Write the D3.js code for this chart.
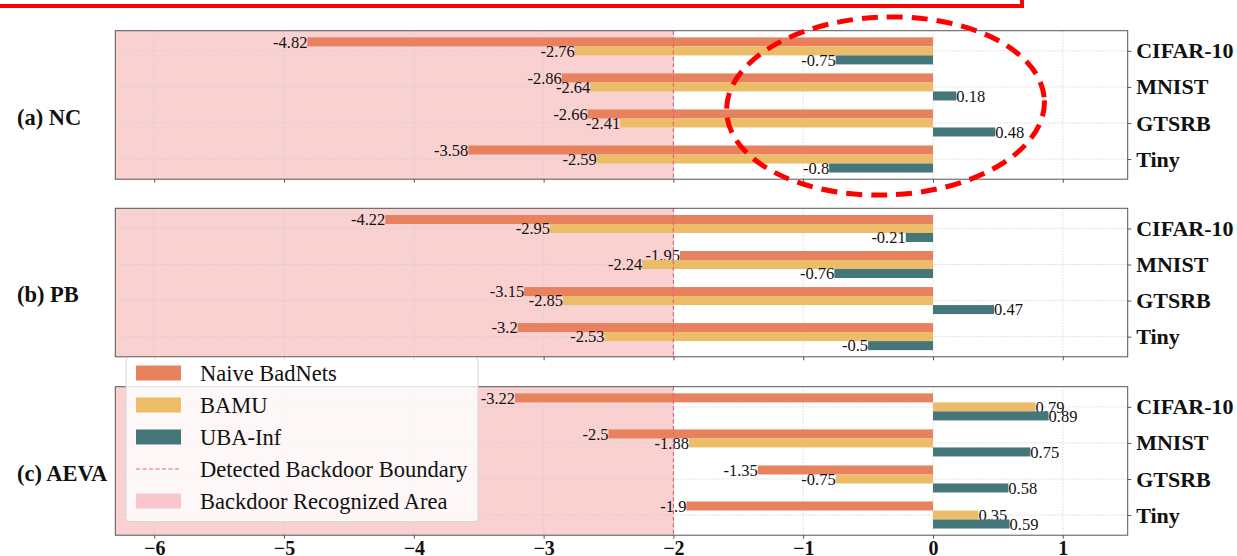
<!DOCTYPE html>
<html>
<head>
<meta charset="utf-8">
<script src="https://cdn.jsdelivr.net/npm/d3@7"></script>
<style>
  html, body { margin: 0; padding: 0; background: #fff; }
  svg { display: block; }
  text { font-family: "Liberation Serif", "DejaVu Serif", serif; }
</style>
</head>
<body>
<svg id="chart" width="1237" height="556"></svg>
<script>
// ---------------- data ----------------
const categories = ["CIFAR-10", "MNIST", "GTSRB", "Tiny"];
const panelLabels = ["(a) NC", "(b) PB", "(c) AEVA"];
const seriesNames = ["Naive BadNets", "BAMU", "UBA-Inf"];
// one row per panel (NC, PB, AEVA), one value per category
const naiveBadNets = [
  [-4.82, -2.86, -2.66, -3.58],
  [-4.22, -1.95, -3.15, -3.2],
  [-3.22, -2.5, -1.35, -1.9]
];
const bamu = [
  [-2.76, -2.64, -2.41, -2.59],
  [-2.95, -2.24, -2.85, -2.53],
  [0.79, -1.88, -0.75, 0.35]
];
const ubaInf = [
  [-0.75, 0.18, 0.48, -0.8],
  [-0.21, -0.76, 0.47, -0.5],
  [0.89, 0.75, 0.58, 0.59]
];
const xTicks = [-6, -5, -4, -3, -2, -1, 0, 1];
const boundary = -2;
const legendLabels = ["Naive BadNets", "BAMU", "UBA-Inf", "Detected Backdoor Boundary", "Backdoor Recognized Area"];

// ---------------- styles ----------------
const colors = ["#E8825E", "#ECBC69", "#44767A"];
const pink = "#F9D1D1";
const boundaryColor = "#E06670";
const spineColor = "#555";
const gridColor = "#cfcfcf";

const svg = d3.select("#chart");

const x = d3.scaleLinear().domain([-6.3, 1.5]).range([115.3, 1127.7]);
const panelTops = [30.7, 208.3, 386.7];
const panelH = 148.5;
const seriesData = [naiveBadNets, bamu, ubaInf];
const offsets = [-0.25, 0, 0.25];
const barW = 0.25;

panelTops.forEach((top, p) => {
  const y = d3.scaleLinear().domain([-0.56, 3.56]).range([top, top + panelH]);
  const g = svg.append("g");

  // recognized area
  g.append("rect")
    .attr("x", x(-6.3)).attr("y", top)
    .attr("width", x(boundary) - x(-6.3)).attr("height", panelH)
    .attr("fill", pink);

  // grid
  g.append("g").selectAll("line").data(xTicks).join("line")
    .attr("x1", d => x(d)).attr("x2", d => x(d))
    .attr("y1", top).attr("y2", top + panelH)
    .attr("stroke", gridColor).attr("stroke-width", 0.8)
    .attr("stroke-dasharray", "1.5,1.5");
  g.append("g").selectAll("line").data(categories).join("line")
    .attr("x1", x(-6.3)).attr("x2", x(1.5))
    .attr("y1", (d, i) => y(i)).attr("y2", (d, i) => y(i))
    .attr("stroke", gridColor).attr("stroke-width", 0.8)
    .attr("stroke-dasharray", "1.5,1.5");

  // bars + labels
  seriesData.forEach((s, si) => {
    const vals = s[p];
    g.append("g").selectAll("rect").data(vals).join("rect")
      .attr("x", d => x(Math.min(0, d)))
      .attr("width", d => Math.abs(x(d) - x(0)))
      .attr("y", (d, i) => y(i + offsets[si] - barW / 2))
      .attr("height", y(barW) - y(0))
      .attr("fill", colors[si]);
    g.append("g").selectAll("text").data(vals).join("text")
      .attr("x", d => x(d))
      .attr("y", (d, i) => y(i + offsets[si]))
      .attr("dy", "0.35em")
      .attr("text-anchor", d => d < 0 ? "end" : "start")
      .attr("font-size", 16.5)
      .attr("fill", "#111")
      .text(d => String(d));
  });

  // boundary line
  g.append("line")
    .attr("x1", x(boundary)).attr("x2", x(boundary))
    .attr("y1", top).attr("y2", top + panelH)
    .attr("stroke", boundaryColor).attr("stroke-width", 1.2)
    .attr("stroke-dasharray", "4,2.5");

  // frame
  g.append("rect")
    .attr("x", x(-6.3)).attr("y", top)
    .attr("width", x(1.5) - x(-6.3)).attr("height", panelH)
    .attr("fill", "none").attr("stroke", spineColor).attr("stroke-width", 1);

  // x axis
  const xa = d3.axisBottom(x).tickValues(xTicks).tickSize(3.5).tickSizeOuter(0).tickPadding(2);
  if (p < 2) xa.tickFormat(() => "");
  const xg = g.append("g").attr("transform", `translate(0,${top + panelH})`).call(xa);
  xg.select(".domain").remove();
  xg.selectAll("line").attr("stroke", spineColor);
  xg.selectAll("text").attr("font-size", 20).attr("font-weight", "bold")
    .attr("fill", "#111").attr("font-family", "Liberation Serif, serif");

  // y axis (right)
  const ya = d3.axisRight(y).tickValues([0, 1, 2, 3]).tickFormat(i => categories[i])
    .tickSize(3.5).tickSizeOuter(0).tickPadding(5);
  const yg = g.append("g").attr("transform", `translate(${x(1.5)},0)`).call(ya);
  yg.select(".domain").remove();
  yg.selectAll("line").attr("stroke", spineColor);
  yg.selectAll("text").attr("font-size", 22).attr("font-weight", "bold")
    .attr("fill", "#111").attr("font-family", "Liberation Serif, serif");

  // panel label
  g.append("text")
    .attr("x", 17).attr("y", top + panelH / 2 + 12)
    .attr("dy", "0.35em")
    .attr("font-size", 22.5).attr("font-weight", "bold").attr("fill", "#111")
    .text(panelLabels[p]);
});

// ---------------- legend ----------------
const lg = svg.append("g");
lg.append("rect")
  .attr("x", 126).attr("y", 357.5).attr("width", 352).attr("height", 164)
  .attr("rx", 3).attr("fill", "#fff").attr("fill-opacity", 0.82)
  .attr("stroke", "#d6d6d6").attr("stroke-width", 1);
const rowY = [373, 405, 437, 469, 501];
legendLabels.forEach((lab, i) => {
  const cy = rowY[i];
  if (i < 3) {
    lg.append("rect").attr("x", 136).attr("y", cy - 7.5).attr("width", 45).attr("height", 15)
      .attr("fill", colors[i]);
  } else if (i === 3) {
    lg.append("line").attr("x1", 136).attr("x2", 181).attr("y1", cy).attr("y2", cy)
      .attr("stroke", boundaryColor).attr("stroke-width", 1.2).attr("stroke-dasharray", "4,2.5");
  } else {
    lg.append("rect").attr("x", 136).attr("y", cy - 7.5).attr("width", 45).attr("height", 15)
      .attr("fill", "#F8C6CB");
  }
  lg.append("text").attr("x", 200).attr("y", cy).attr("dy", "0.35em")
    .attr("font-size", 22.5).attr("fill", "#111").text(lab);
});

// ---------------- annotations ----------------
svg.append("rect")
  .attr("x", -10).attr("y", -20).attr("width", 1032).attr("height", 26)
  .attr("fill", "none").attr("stroke", "#ff0000").attr("stroke-width", 4);
svg.append("ellipse")
  .attr("cx", 885.5).attr("cy", 106).attr("rx", 159).attr("ry", 89)
  .attr("transform", "rotate(-2 885.5 106)")
  .attr("fill", "none").attr("stroke", "#ff0000").attr("stroke-width", 5)
  .attr("stroke-dasharray", "16,9");
</script>
</body>
</html>
